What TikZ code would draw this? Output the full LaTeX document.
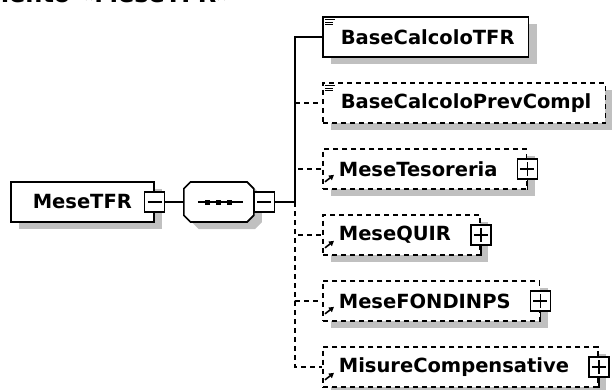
\documentclass[tikz,border=0pt]{standalone}
\usepackage{fontspec}
\setmainfont{DejaVu Sans}
\usepackage{tikz}
\usetikzlibrary{positioning,arrows.meta,shapes.misc}
\definecolor{shd}{HTML}{C0C0C0}
\newcommand{\lbl}{\fontsize{19.5}{21}\selectfont\bfseries}
\tikzset{
  shadowed/.style={preaction={fill=shd,transform canvas={xshift=8pt,yshift=-7pt}}},
  elem/.style={draw,line width=1.7pt,fill=white,shadowed,minimum height=40pt,inner ysep=0pt,anchor=west,font=\lbl},
  base/.style={elem,inner xsep=14pt,execute at begin node={\hspace*{4pt}}},
  opt/.style={dash pattern=on 5pt off 4pt},
  ref/.style={elem,opt,inner xsep=16pt,execute at end node={\hspace*{13pt}}},
  seqbox/.style={chamfered rectangle,chamfered rectangle xsep=9pt,draw,line width=1.7pt,fill=white,shadowed,
    minimum width=70pt,minimum height=40pt,anchor=west},
  pm/.style={draw,line width=1.4pt,fill=white,inner sep=0pt,minimum size=20pt},
  minus/.style={pm,
    path picture={\draw[line width=1.4pt] ([xshift=3pt]path picture bounding box.west) -- ([xshift=-3pt]path picture bounding box.east);}},
  plus/.style={pm,
    path picture={\draw[line width=1.4pt] ([xshift=3pt]path picture bounding box.west) -- ([xshift=-3pt]path picture bounding box.east)
      ([yshift=-3pt]path picture bounding box.north) -- ([yshift=3pt]path picture bounding box.south);}},
  wire/.style={line width=1.7pt},
  refarr/.style={line width=1.6pt,-{Triangle[length=5pt,width=5.5pt]}},
}
\begin{document}
\begin{tikzpicture}[x=1pt,y=-1pt]
\useasboundingbox (0,0) rectangle (612,390);
\clip (0,0) rectangle (612,390);
% title, cut by the top edge
\node[font=\fontsize{24}{26}\selectfont\bfseries,anchor=base east,inner sep=0pt] (title) at (232,2.5) {Elemento «MeseTFR»};
% parent and sequence
\node[elem,minimum width=143pt] (mesetfr) at (10,202) {MeseTFR};
\node[minus] (tfrm) at (mesetfr.east) {};
\node[seqbox] (seq) at (183,202) {};
\draw[wire] ([xshift=-21pt]seq.center) -- ([xshift=24pt]seq.center);
\foreach \dx in {-11,0,11}
  \fill ([shift={(\dx-2.5,-2.5)}]seq.center) rectangle ++(5,5);
\node[minus,right=-1pt of seq] (seqm) {};
\coordinate[right=20pt of seqm] (bus);
\draw[wire] (tfrm) -- (seq);
\draw[wire] (seqm) -- (bus);
% children
\node[base] (basetfr) at (322,37) {BaseCalcoloTFR};
\node[base,opt] (baseprev) at (322,103) {BaseCalcoloPrevCompl};
\node[ref] (tesoreria) at (322,169) {MeseTesoreria};
\node[ref] (quir) at (322,235) {MeseQUIR};
\node[ref] (fondinps) at (322,301) {MeseFONDINPS};
\node[ref] (misure) at (322,367) {MisureCompensative};
\draw[wire] (bus) |- (basetfr.west);
\foreach \n in {baseprev,tesoreria,quir,fondinps,misure}
  \draw[wire,opt] (bus) |- (\n.west);
% icons
\foreach \n in {basetfr,baseprev} {
  \draw[line width=1.1pt] ([shift={(3,3.5)}]\n.north west) -- ++(10,0);
  \draw[line width=1.1pt] ([shift={(3,6)}]\n.north west) -- ++(8,0);
  \draw[line width=1.1pt] ([shift={(3,8.5)}]\n.north west) -- ++(8,0);
}
\foreach \n in {tesoreria,quir,fondinps,misure} {
  \draw[refarr] ([shift={(3,-8)}]\n.south west) -- ++(9,-7);
  \node[plus] (\n p) at (\n.east) {};
  \draw[line width=1.4pt] (\n p.south) -- (\n p.south |- \n.south);
}
\end{tikzpicture}
\end{document}
